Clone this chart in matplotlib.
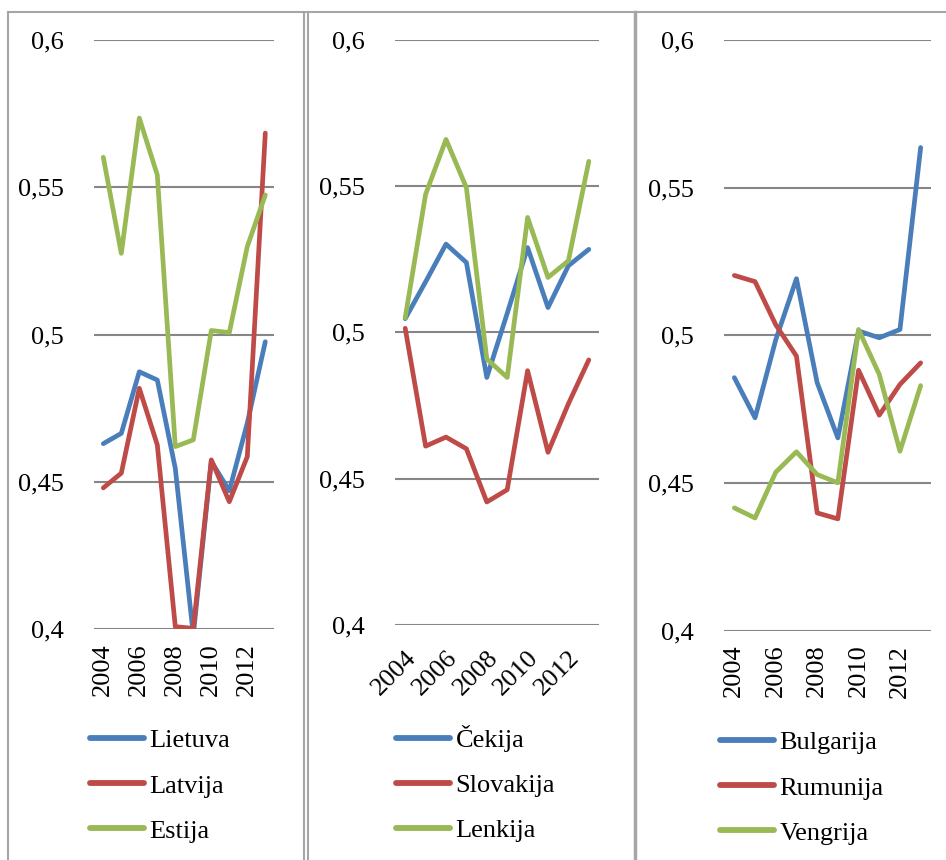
import numpy as np
import matplotlib.pyplot as plt
from matplotlib.lines import Line2D

plt.rcParams['font.family'] = ['Liberation Serif', 'DejaVu Serif']

years = np.arange(2004, 2014)

# I panelis
lietuva = [0.463, 0.4665, 0.4874, 0.4846, 0.4546, 0.398, 0.457, 0.447, 0.470, 0.4976]
latvija = [0.448, 0.453, 0.4818, 0.4626, 0.4009, 0.4003, 0.4575, 0.4433, 0.4586, 0.5684]
estija = [0.5602, 0.5276, 0.5735, 0.5542, 0.462, 0.4643, 0.5014, 0.5007, 0.5299, 0.5474]

# II panelis
cekija = [0.5047, 0.5173, 0.5302, 0.5239, 0.4846, 0.5065, 0.529, 0.5085, 0.5228, 0.5284]
slovakija = [0.5014, 0.4611, 0.4642, 0.4602, 0.442, 0.4462, 0.4869, 0.459, 0.4756, 0.4906]
lenkija = [0.505, 0.5472, 0.566, 0.5495, 0.4909, 0.4846, 0.5393, 0.5188, 0.5245, 0.5585]

# III panelis
bulgarija = [0.4857, 0.4721, 0.4985, 0.5192, 0.484, 0.4653, 0.5015, 0.4992, 0.502, 0.5636]
rumunija = [0.5203, 0.5182, 0.5036, 0.493, 0.4399, 0.4379, 0.4882, 0.473, 0.4834, 0.4907]
vengrija = [0.4416, 0.4382, 0.4537, 0.4606, 0.4529, 0.4501, 0.502, 0.4868, 0.4608, 0.483]

y_ticks = [0.4, 0.45, 0.5, 0.55, 0.6]
y_tick_labels = ['0,4', '0,45', '0,5', '0,55', '0,6']

colors = ['#4A7EBB', '#BE4B48', '#98B954']

W, H = 946, 860
fig = plt.figure(figsize=(W / 100, H / 100), dpi=100)

def px_rect(x0, x1, ytop, ybot):
    return [x0 / W, 1 - ybot / H, (x1 - x0) / W, (ybot - ytop) / H]

panels = [
    (px_rect(94.3, 274.3, 40, 629.3), [lietuva, latvija, estija], ['Lietuva', 'Latvija', 'Estija'], 90, (90, 729)),
    (px_rect(395, 599, 40, 624.8), [cekija, slovakija, lenkija], ['Čekija', 'Slovakija', 'Lenkija'], 45, (396, 725)),
    (px_rect(724, 931, 40, 630.8), [bulgarija, rumunija, vengrija], ['Bulgarija', 'Rumunija', 'Vengrija'], 90, (720, 731)),
]

fs = 19
x = np.arange(len(years))
for rect, series, names, rot, leg_pos in panels:
    ax = fig.add_axes(rect)
    for s, name, c in zip(series, names, colors):
        ax.plot(x, s, color=c, lw=3.4, label=name, solid_capstyle='round', solid_joinstyle='round')
    ax.set_xlim(-0.5, len(years) - 0.5)
    ax.set_ylim(0.4, 0.6)
    ax.set_yticks(y_ticks)
    ax.set_yticklabels(y_tick_labels, fontsize=fs)
    ax.set_xticks(x[::2])
    if rot == 90:
        ax.set_xticklabels(years[::2], fontsize=fs, rotation=90, va='top', ha='center')
        ax.tick_params(axis='x', pad=10)
    else:
        ax.set_xticklabels(years[::2], fontsize=fs, rotation=45, ha='right', rotation_mode='anchor')
        ax.tick_params(axis='x', pad=16)
    ax.tick_params(axis='both', length=0)
    ax.tick_params(axis='y', pad=22)
    ax.grid(axis='y', color='#868686', lw=1.5)
    ax.set_axisbelow(True)
    for sp in ax.spines.values():
        sp.set_visible(False)
    leg = ax.legend(loc='upper left', bbox_to_anchor=(leg_pos[0] / W, 1 - leg_pos[1] / H),
                    bbox_transform=fig.transFigure, frameon=False, fontsize=fs,
                    handlelength=2.05, handletextpad=0.2, borderpad=0, borderaxespad=0,
                    labelspacing=0.82)
    for h in leg.get_lines():
        h.set_linewidth(4.2)

# rėmeliai (lentelės linijos)
border = '#A6A6A6'
def vline(xp, lw=1.5):
    fig.add_artist(Line2D([xp / W, xp / W], [0, 1 - 12 / H], color=border, lw=lw))

fig.add_artist(Line2D([8 / W, 1], [1 - 12 / H, 1 - 12 / H], color=border, lw=1.5))
vline(8)
vline(304)
vline(308)
vline(635, lw=2.5)

plt.savefig('out.png', dpi=100)
